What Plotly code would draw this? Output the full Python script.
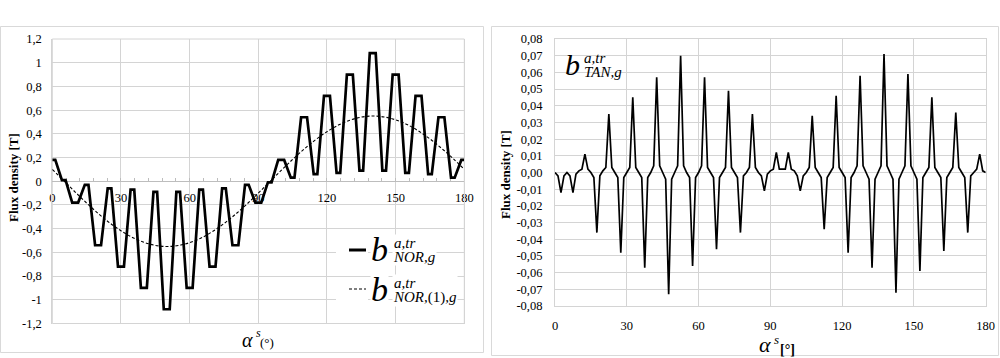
import plotly.graph_objects as go

W, H = 1000, 358
FONT = "Liberation Serif"
GRID = "#d4d4d4"
BORDER = "#d9d9d9"

# ---------------- data: left panel (normal component) ----------------
alpha_nor = [0, 1.3, 4.2, 5.8, 8.7, 11.3, 14.2, 15.8, 18.7, 21.3, 24.2, 25.8,
             28.7, 31.3, 34.2, 35.8, 38.7, 41.3, 44.2, 45.8, 48.7, 51.3, 54.2, 55.8,
             58.7, 61.3, 64.2, 65.8, 68.7, 71.3, 74.2, 75.8, 78.7, 81.3, 84.2, 85.8,
             88.7, 91.3, 94.2, 95.8, 98.7, 101.3, 104.2, 105.8, 108.7, 111.3, 114.2, 115.8,
             118.7, 121.3, 124.2, 125.8, 128.7, 131.3, 134.2, 135.8, 138.7, 141.3, 144.2, 145.8,
             148.7, 151.3, 154.2, 155.8, 158.7, 161.3, 164.2, 165.8, 168.7, 171.3, 174.2, 175.8,
             178.7, 180]
b_nor = [0.18, 0.18, 0.01, 0.01, -0.18, -0.18, -0.03, -0.03, -0.54, -0.54, -0.06, -0.06,
         -0.72, -0.72, -0.07, -0.07, -0.90, -0.90, -0.09, -0.09, -1.08, -1.08, -0.09, -0.09,
         -0.90, -0.90, -0.07, -0.07, -0.72, -0.72, -0.06, -0.06, -0.54, -0.54, -0.03, -0.03,
         -0.18, -0.18, -0.01, -0.01, 0.18, 0.18, 0.03, 0.03, 0.54, 0.54, 0.06, 0.06,
         0.72, 0.72, 0.07, 0.07, 0.90, 0.90, 0.09, 0.09, 1.08, 1.08, 0.09, 0.09,
         0.90, 0.90, 0.07, 0.07, 0.72, 0.72, 0.06, 0.06, 0.54, 0.54, 0.03, 0.03,
         0.18, 0.18]

alpha_fund = [0, 5, 10, 15, 20, 25, 30, 35, 40, 45, 50, 55, 60, 65, 70, 75, 80, 85, 90,
              95, 100, 105, 110, 115, 120, 125, 130, 135, 140, 145, 150, 155, 160, 165, 170, 175, 180]
b_nor_fund = [0.100, 0.005, -0.091, -0.184, -0.271, -0.350, -0.418, -0.474, -0.515, -0.541,
              -0.550, -0.542, -0.518, -0.479, -0.424, -0.357, -0.279, -0.193, -0.100,
              -0.005, 0.091, 0.184, 0.271, 0.350, 0.418, 0.474, 0.515, 0.541,
              0.550, 0.542, 0.518, 0.479, 0.424, 0.357, 0.279, 0.193, 0.100]

# ---------------- data: right panel (tangential component) ----------------
alpha_tan = [i * 1.25 for i in range(145)]
b_tan = [
    0.000, -0.002, -0.012, -0.002,
    0.000, -0.002, -0.012, -0.001,
    0.001, 0.002, 0.011, 0.002,
    0.000, -0.003, -0.036, -0.002,
    0.001, 0.003, 0.035, 0.003,
    0.000, -0.003, -0.048, -0.003,
    0.000, 0.003, 0.045, 0.003,
    0.000, -0.003, -0.057, -0.003,
    0.000, 0.004, 0.057, 0.004,
    0.000, -0.004, -0.073, -0.004,
    0.000, 0.004, 0.070, 0.004,
    0.000, -0.003, -0.056, -0.003,
    0.000, 0.004, 0.057, 0.003,
    0.000, -0.003, -0.046, -0.003,
    0.000, 0.003, 0.049, 0.003,
    0.000, -0.003, -0.036, -0.002,
    0.000, 0.003, 0.035, 0.003,
    0.000, -0.002, -0.011, -0.001,
    0.001, 0.002, 0.012, 0.002,
    0.002, 0.002, 0.012, 0.002,
    0.001, -0.002, -0.011, -0.002,
    0.000, 0.003, 0.034, 0.003,
    0.000, -0.003, -0.034, -0.003,
    0.000, 0.003, 0.046, 0.003,
    0.000, -0.003, -0.048, -0.003,
    0.000, 0.004, 0.058, 0.004,
    0.000, -0.004, -0.057, -0.004,
    0.000, 0.004, 0.071, 0.004,
    0.000, -0.004, -0.072, -0.004,
    0.000, 0.004, 0.059, 0.004,
    0.000, -0.004, -0.059, -0.003,
    0.000, 0.003, 0.045, 0.003,
    0.000, -0.003, -0.047, -0.003,
    0.000, 0.003, 0.036, 0.003,
    0.000, -0.003, -0.036, -0.002,
    0.000, 0.002, 0.011, 0.001,
    0.000,
]

# ---------------- ticks ----------------
x_ticks = [0, 30, 60, 90, 120, 150, 180]
x_ticktext = ["0", "30", "60", "90", "120", "150", "180"]
y_nor_ticks = [-1.2, -1.0, -0.8, -0.6, -0.4, -0.2, 0.0, 0.2, 0.4, 0.6, 0.8, 1.0, 1.2]
y_nor_text = ["-1,2", "-1", "-0,8", "-0,6", "-0,4", "-0,2", "0", "0,2", "0,4", "0,6", "0,8", "1", "1,2"]
y_tan_ticks = [-0.08, -0.07, -0.06, -0.05, -0.04, -0.03, -0.02, -0.01, 0.0,
               0.01, 0.02, 0.03, 0.04, 0.05, 0.06, 0.07, 0.08]
y_tan_text = ["-0,08", "-0,07", "-0,06", "-0,05", "-0,04", "-0,03", "-0,02", "-0,01", "0,00",
              "0,01", "0,02", "0,03", "0,04", "0,05", "0,06", "0,07", "0,08"]


def px(x):
    return x / W


def py(y):
    return 1 - y / H


# plot-area geometry (pixels)
L_X0, L_X1, L_Y0, L_Y1 = 52.3, 464.3, 39.0, 323.5
R_X0, R_X1, R_Y0, R_Y1 = 555.0, 985.7, 39.0, 306.0

fig = go.Figure()
fig.add_trace(go.Scatter(x=alpha_nor, y=b_nor, mode="lines",
                         line=dict(color="#000000", width=2.7),
                         xaxis="x", yaxis="y", showlegend=False))
fig.add_trace(go.Scatter(x=alpha_fund, y=b_nor_fund, mode="lines",
                         line=dict(color="#000000", width=1.1, dash="3px,2px", shape="spline"),
                         xaxis="x", yaxis="y", showlegend=False))
fig.add_trace(go.Scatter(x=alpha_tan, y=b_tan, mode="lines",
                         line=dict(color="#000000", width=1.7),
                         xaxis="x2", yaxis="y2", showlegend=False))

tickfont = dict(family=FONT, size=12.5, color="#000000")

fig.update_layout(
    width=W, height=H, autosize=False,
    margin=dict(l=0, r=0, t=0, b=0, pad=0, autoexpand=False),
    font=dict(family=FONT, color="#000000"),
    paper_bgcolor="white", plot_bgcolor="white",
    showlegend=False,
    xaxis=dict(domain=[px(L_X0), px(L_X1)], range=[0, 180],
               anchor="free", position=(py(L_Y1) + py(L_Y0)) / 2,
               tickmode="array", tickvals=x_ticks, ticktext=x_ticktext,
               showgrid=True, gridcolor=GRID, gridwidth=1,
               showline=True, linecolor="#bdbdbd", linewidth=1,
               ticks="inside", ticklen=3, tickcolor="#bdbdbd",
               minor=dict(tickmode="linear", tick0=0, dtick=6, ticks="inside",
                          ticklen=3, tickcolor="#bdbdbd", showgrid=False),
               tickfont=tickfont, ticklabelstandoff=5, automargin=False,
               zeroline=False, layer="below traces", fixedrange=True),
    yaxis=dict(domain=[py(L_Y1), py(L_Y0)], range=[-1.2, 1.2], anchor="x",
               tickmode="array", tickvals=y_nor_ticks, ticktext=y_nor_text,
               showgrid=True, gridcolor=GRID, gridwidth=1,
               showline=True, linecolor=GRID, mirror=True,
               ticks="", tickfont=tickfont, ticklabelstandoff=7, automargin=False,
               zeroline=False, fixedrange=True),
    xaxis2=dict(domain=[px(R_X0), px(R_X1)], range=[0, 180], anchor="y2",
                tickmode="array", tickvals=x_ticks, ticktext=x_ticktext,
                showgrid=True, gridcolor=GRID, gridwidth=1,
                showline=True, linecolor=GRID, mirror=True,
                ticks="", tickfont=tickfont, ticklabelstandoff=8, automargin=False,
                zeroline=False, fixedrange=True),
    yaxis2=dict(domain=[py(R_Y1), py(R_Y0)], range=[-0.08, 0.08], anchor="x2",
                tickmode="array", tickvals=y_tan_ticks, ticktext=y_tan_text,
                showgrid=True, gridcolor=GRID, gridwidth=1,
                showline=True, linecolor=GRID, mirror=True,
                ticks="", tickfont=tickfont, ticklabelstandoff=9, automargin=False,
                zeroline=False, fixedrange=True),
)

shapes = []
# chart-area borders
shapes.append(dict(type="rect", xref="paper", yref="paper",
                   x0=px(0.5), x1=px(483.5), y0=py(352.5), y1=py(26.5),
                   line=dict(color=BORDER, width=1), fillcolor="rgba(0,0,0,0)", layer="below"))
shapes.append(dict(type="rect", xref="paper", yref="paper",
                   x0=px(491.5), x1=px(998.5), y0=py(355.5), y1=py(26.5),
                   line=dict(color=BORDER, width=1), fillcolor="rgba(0,0,0,0)", layer="below"))
# left plot-area frame
shapes.append(dict(type="rect", xref="x domain", yref="y domain", x0=0, x1=1, y0=0, y1=1,
                   line=dict(color=GRID, width=1), fillcolor="rgba(0,0,0,0)", layer="below"))
# legend backgrounds and line samples (left panel)
for (yc, dash, wd) in [(250, "solid", 3), (289, "3px,2px", 1.1)]:
    shapes.append(dict(type="rect", xref="paper", yref="paper",
                       x0=px(336), x1=px(368), y0=py(yc + 11), y1=py(yc - 11),
                       line=dict(width=0), fillcolor="white", layer="above"))
    shapes.append(dict(type="line", xref="paper", yref="paper",
                       x0=px(349), x1=px(366), y0=py(yc), y1=py(yc),
                       line=dict(color="#000000", width=wd, dash=dash), layer="above"))
fig.update_layout(shapes=shapes)

annotations = []


def ann(text, x, y, size, xanchor="left", yanchor="middle", angle=0, bg=None, align="left"):
    d = dict(text=text, xref="paper", yref="paper", x=px(x), y=py(y),
             xanchor=xanchor, yanchor=yanchor, showarrow=False, textangle=angle, align=align,
             font=dict(family=FONT, size=size, color="#000000"), borderpad=0)
    if bg:
        d["bgcolor"] = bg
    annotations.append(d)


def stacked(top, bottom, x, y, size, bg=None):
    # superscript stacked above subscript (one text block)
    base = size / 0.7
    ann(f"<sub><i>{top}</i></sub><br><sup><i>{bottom}</i></sup>", x, y, base, bg=bg)


# axis titles
ann("<b>Flux density [T]</b>", 13, 178, 13, xanchor="center", angle=-90)
ann("<b>Flux density [T]</b>", 505, 175, 13, xanchor="center", angle=-90)
# left x title: alpha^s (°)
ann("<i>α</i>", 254, 352.3, 20, xanchor="right", yanchor="bottom")
ann("<i>s</i>", 255, 333, 12)
ann("(°)", 259, 342, 13)
# right x title: alpha^s [°]
ann("<i>α</i>", 772, 358, 22, xanchor="right", yanchor="bottom")
ann("<i>s</i>", 773, 339.5, 13)
ann("<b>[°]</b>", 779, 349, 14)

# legend text (left panel)
ann("<i>b</i>", 389, 249, 34, xanchor="right", bg="white")
stacked("a,tr", "NOR,g", 392, 250, 15, bg="white")
ann("<i>b</i>", 389, 289, 34, xanchor="right", bg="white")
stacked("a,tr", "NOR,</i>(1)<i>,g", 392, 290, 15, bg="white")

# label in right panel
ann("<i>b</i>", 581, 64, 30, xanchor="right")
stacked("a,tr", "TAN,g", 583, 65, 15)

fig.update_layout(annotations=annotations)

fig.write_html("out.html", config={"displayModeBar": False},
               post_script="document.body.style.margin='0px';")
